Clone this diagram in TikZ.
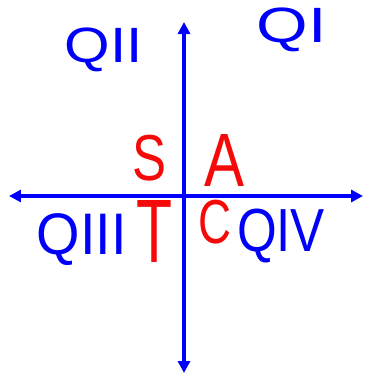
\documentclass[tikz,border=0pt]{standalone}
\usepackage{fontspec}
\setmainfont{Liberation Sans}
\usetikzlibrary{arrows.meta}
\definecolor{axblue}{RGB}{0,0,250}
\definecolor{lred}{RGB}{245,10,10}
\newcommand{\fitlbl}[3]{\resizebox*{#1pt}{#2pt}{#3}}
\tikzset{
  axis/.style={draw=axblue,line width=4.5pt,{Triangle[width=12pt,length=12pt]}-{Triangle[width=12pt,length=12pt]}},
  quad/.style={text=axblue,inner sep=0pt},
  letter/.style={text=lred,inner sep=0pt}
}
\begin{document}
\begin{tikzpicture}[x=1pt,y=-1pt]
\useasboundingbox (0,0) rectangle (365,376);
\coordinate (top) at (184,22);
\coordinate (bot) at (184,373);
\coordinate (lft) at (9,196);
\coordinate (rgt) at (363,196);
\draw[axis] (top) -- (bot);
\draw[axis] (lft) -- (rgt);
\node[quad] (q2) at (104,50) {\fitlbl{78}{44}{QII}};
\node[quad] (q1) at (292,30) {\fitlbl{70}{44}{QI}};
\node[quad] (q3) at (82,240) {\fitlbl{90}{52}{QIII}};
\node[quad] (q4) at (281,236) {\fitlbl{88}{54}{QIV}};
\node[letter] (s) at (150,158) {\fitlbl{34}{46}{S}};
\node[letter] (a) at (225,160) {\fitlbl{40}{52}{A}};
\node[letter] (t) at (155,231) {\fitlbl{36}{62}{T}};
\node[letter] (c) at (215,222) {\fitlbl{33}{44}{C}};
\end{tikzpicture}
\end{document}
